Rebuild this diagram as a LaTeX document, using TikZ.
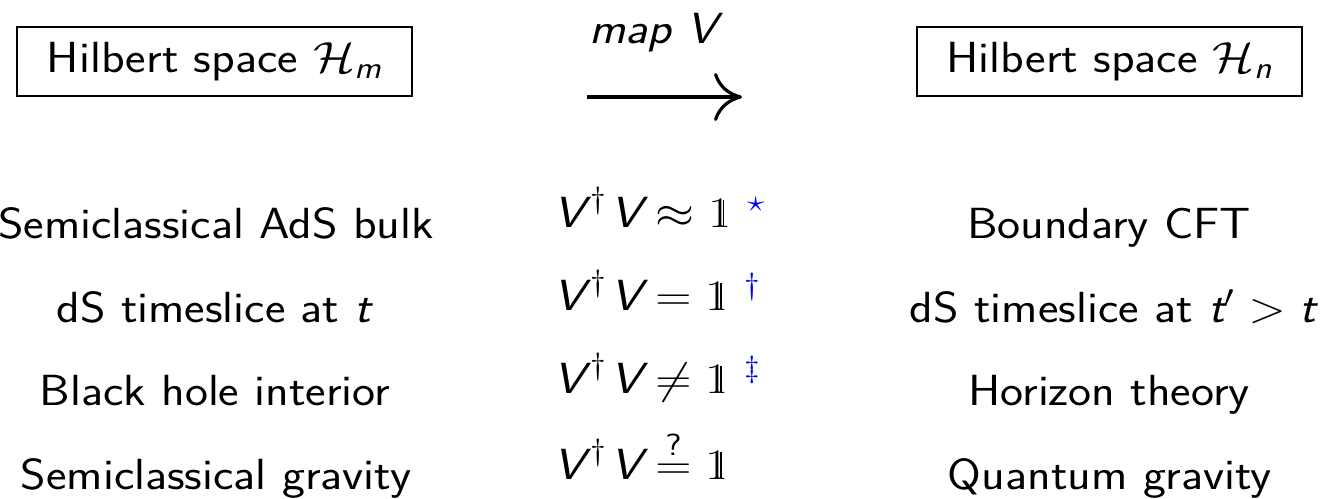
\RequirePackage{fix-cm}
\documentclass[tikz,border=0pt]{standalone}
\usepackage{amsmath}
\usepackage{graphicx}
\usetikzlibrary{arrows.meta}
\renewcommand{\familydefault}{\sfdefault}
\newcommand{\sv}[1]{\text{\sffamily\slshape #1}}
\newcommand{\one}{\text{\rmfamily\ooalign{1\cr\hidewidth\kern0.15em\rule[0.03em]{0.035em}{0.6em}\hidewidth\cr}}}
\newcommand{\VdV}{\sv{V}^{\,\dagger}\mkern1mu\sv{V}}
\newcommand{\X}[1]{\scalebox{1.12}[1]{#1}}
\newcommand{\XE}[1]{\scalebox{1.15}[1]{#1}}
\begin{document}
\begin{tikzpicture}[x=0.5pt,y=-0.5pt,
  every node/.style={font=\fontsize{21.8}{26}\selectfont\sffamily, inner sep=0pt},
  hbox/.style={draw, line width=0.8pt, minimum height=34.5pt},
  rowtext/.style={anchor=base},
  eqtext/.style={anchor=base west}]
\useasboundingbox (0,0) rectangle (1321,498);
% header
\node[hbox, minimum width=197.5pt] (hm) at (214.5,61.5) {\X{Hilbert space $\mathcal{H}_{\sv{m}}$}};
\node[hbox, minimum width=192.5pt] (hn) at (1109.5,61.5) {\X{Hilbert space $\mathcal{H}_{\sv{n}}$}};
\node[anchor=base] (mapv) at (653.5,43) {\X{\sv{map V}}};
\coordinate (a0) at (587,97);
\coordinate (a1) at (742,97);
\draw[line width=1.6pt, -{Computer Modern Rightarrow[length=14pt,width=24pt]}] (a0) -- (a1);
% left column
\node[rowtext] (l1) at (216,238) {\X{Semiclassical AdS bulk}};
\node[rowtext] (l2) at (214,322) {\X{dS timeslice at \sv{t}}};
\node[rowtext] (l3) at (215,405) {\X{Black hole interior}};
\node[rowtext] (l4) at (216,489) {\X{Semiclassical gravity}};
% middle column
\node[eqtext] (e1) at (553,227) {\XE{$\VdV\approx\one$\ \textcolor{blue}{$^{\star}$}}};
\node[eqtext] (e2) at (553,310) {\XE{$\VdV=\one$\ \textcolor{blue}{$^{\dagger}$}}};
\node[eqtext] (e3) at (553,393) {\XE{$\VdV\neq\one$\ \textcolor{blue}{$^{\ddagger}$}}};
\node[eqtext] (e4) at (553,479) {\XE{$\VdV\stackrel{\textsf{?}}{=}\one$}};
% right column
\node[rowtext] (r1) at (1109,238) {\X{Boundary CFT}};
\node[rowtext] (r2) at (1113,322) {\X{dS timeslice at $\sv{t}'>\sv{t}$}};
\node[rowtext] (r3) at (1109,405) {\X{Horizon theory}};
\node[rowtext] (r4) at (1110,489) {\X{Quantum gravity}};
\end{tikzpicture}
\end{document}
